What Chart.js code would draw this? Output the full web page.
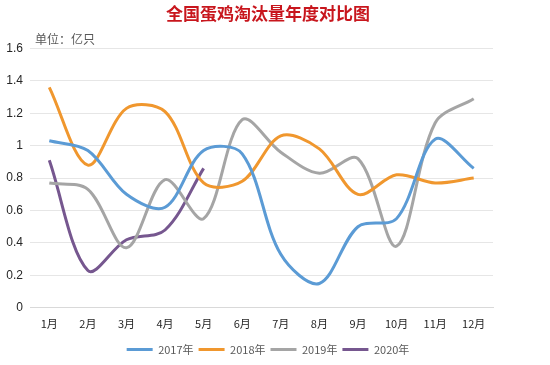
<!DOCTYPE html>
<html>
<head>
<meta charset="utf-8">
<script src="https://cdn.jsdelivr.net/npm/chart.js@4"></script>
<style>
    body { margin: 0; background: #fff; }
    #wrap { width: 550px; height: 365px; }
</style>
</head>
<body>
<div id="wrap"><canvas id="eggChart"></canvas></div>
<script>
// Chart data
const months = ['1月', '2月', '3月', '4月', '5月', '6月', '7月', '8月', '9月', '10月', '11月', '12月'];
const seriesNames = ['2017年', '2018年', '2019年', '2020年'];
const values2017 = [1.03, 0.97, 0.70, 0.62, 0.97, 0.95, 0.33, 0.15, 0.50, 0.55, 1.04, 0.86];
const values2018 = [1.36, 0.88, 1.23, 1.21, 0.77, 0.78, 1.06, 0.98, 0.70, 0.82, 0.77, 0.80];
const values2019 = [0.77, 0.73, 0.37, 0.79, 0.55, 1.16, 0.96, 0.83, 0.92, 0.38, 1.14, 1.29];
const values2020 = [0.91, 0.23, 0.42, 0.48, 0.86];
const lineColors = ['#5B9BD5', '#F0972E', '#A5A5A5', '#76578F'];

// Draw the unit note above the plot area
const unitLabel = {
    id: 'unitLabel',
    afterDraw(chart) {
        const ctx = chart.ctx;
        ctx.save();
        ctx.font = '12px "Noto Sans CJK SC"';
        ctx.fillStyle = '#595959';
        ctx.textBaseline = 'alphabetic';
        ctx.fillText('单位：亿只', chart.chartArea.left + 5, chart.chartArea.top - 4);
        ctx.restore();
    }
};

function makeDataset(label, values, color) {
    return {
        label: label,
        data: values,
        borderColor: color,
        backgroundColor: color,
        borderWidth: 3,
        tension: 0.33,
        pointRadius: 0,
        fill: false
    };
}

const ctxEgg = document.getElementById('eggChart').getContext('2d');
const eggChart = new Chart(ctxEgg, {
    type: 'line',
    data: {
        labels: months,
        datasets: [
            makeDataset(seriesNames[0], values2017, lineColors[0]),
            makeDataset(seriesNames[1], values2018, lineColors[1]),
            makeDataset(seriesNames[2], values2019, lineColors[2]),
            makeDataset(seriesNames[3], values2020, lineColors[3])
        ]
    },
    options: {
        responsive: true,
        maintainAspectRatio: false,
        animation: false,
        layout: {
            padding: { left: 0, right: 14, top: 2, bottom: 0 }
        },
        plugins: {
            title: {
                display: true,
                text: '全国蛋鸡淘汰量年度对比图',
                color: '#C8161D',
                font: { family: '"Noto Sans CJK SC"', size: 17, weight: 'bold' },
                padding: { top: 1, bottom: 25 }
            },
            legend: {
                position: 'bottom',
                labels: {
                    usePointStyle: true,
                    pointStyle: 'line',
                    pointStyleWidth: 26,
                    boxHeight: 8,
                    padding: 5,
                    color: '#595959',
                    font: { family: '"Noto Sans CJK SC"', size: 11 }
                }
            },
            tooltip: { enabled: false }
        },
        scales: {
            x: {
                offset: true,
                grid: { display: false, drawTicks: false },
                border: { color: '#D9D9D9' },
                ticks: {
                    color: '#262626',
                    padding: 9,
                    maxRotation: 0,
                    font: { family: '"Noto Sans CJK SC"', size: 11 }
                }
            },
            y: {
                min: 0,
                max: 1.6,
                afterFit: function (scale) { scale.width = 30; },
                grid: { color: '#E6E6E6', drawTicks: false },
                border: { display: false },
                ticks: {
                    stepSize: 0.2,
                    color: '#262626',
                    padding: 7,
                    font: { family: '"Liberation Sans"', size: 12 },
                    callback: function (value) { return String(parseFloat(value.toFixed(1))); }
                }
            },
            // empty right-hand axis, only reserves the blank margin beside the plot
            yRight: {
                position: 'right',
                min: 0,
                max: 1.6,
                afterFit: function (scale) { scale.width = 43; },
                grid: { display: false, drawTicks: false },
                border: { display: false },
                ticks: { display: false }
            }
        }
    },
    plugins: [unitLabel]
});
</script>
</body>
</html>
